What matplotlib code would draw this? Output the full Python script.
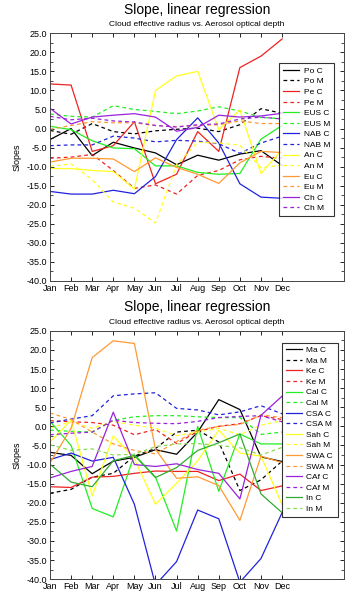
import matplotlib
matplotlib.use("Agg")
import matplotlib.pyplot as plt
from matplotlib.ticker import MultipleLocator, FormatStrFormatter

plt.rcParams['font.family'] = ['Liberation Sans', 'DejaVu Sans']

months = ['Jan', 'Feb', 'Mar', 'Apr', 'May', 'Jun', 'Jul', 'Aug', 'Sep', 'Oct', 'Nov', 'Dec']
x = list(range(1, 13))

# top panel
po_c = [-2.9, 0.0, -7.1, -3.6, -5.1, -6.4, -9.5, -7.0, -8.3, -6.7, -5.8, -9.7]
po_m = [-0.5, -1.5, 1.3, -0.8, -1.4, -0.6, -0.2, 0.1, -0.8, 1.0, 5.2, 4.0]
pe_c = [11.7, 11.4, -6.0, -4.5, 1.8, -14.5, -12.0, -0.8, -6.0, 16.0, 19.0, 23.5]
pe_m = [-7.8, -7.5, -6.8, -11.0, -15.7, -14.8, -17.2, -12.3, -11.0, -8.2, -7.3, -7.8]
eus_c = [0.6, -0.3, -3.2, -5.1, -5.3, -9.8, -9.8, -11.5, -12.0, -11.8, -2.8, 0.8]
eus_m = [3.8, 3.2, 3.0, 6.0, 5.0, 4.5, 3.9, 4.6, 5.7, 4.6, 2.9, 2.6]
nab_c = [-16.5, -17.2, -17.2, -16.2, -17.1, -12.6, -2.9, 2.8, -3.8, -14.5, -18.0, -18.3]
nab_m = [-4.5, -4.3, -4.3, -2.0, -2.5, -3.5, -3.1, -3.3, -4.0, -6.5, -3.8, -2.0]
an_c = [-10.5, -10.5, -11.0, -11.3, -15.9, 10.0, 13.8, 15.0, -0.3, 4.9, -11.8, -5.5]
an_m = [-9.9, -9.3, -13.4, -19.3, -20.9, -24.8, -9.5, -3.6, -3.8, -4.4, -10.3, -9.6]
eu_c = [-8.8, -7.8, -7.8, -8.0, -11.3, -7.7, -10.2, -12.0, -14.4, -9.0, -6.0, -6.3]
eu_m = [-0.2, 0.8, 1.8, 1.5, 1.5, 0.8, 0.5, 0.8, 1.0, 2.0, 1.3, 1.3]
ch_c = [5.3, 1.2, 3.0, 3.5, 3.9, 3.0, -0.7, 0.3, 3.5, 3.0, 3.3, 4.0]
ch_m = [3.2, 2.3, 2.7, 2.0, 1.7, 0.8, 0.4, 1.0, 1.2, 2.5, 3.0, 2.5]

# bottom panel
ma_c = [-6.8, -7.6, -12.4, -9.1, -8.1, -6.1, -7.3, -1.5, 7.0, 4.4, -8.0, -9.2]
ma_m = [-17.5, -16.5, -13.3, -12.3, -7.8, -5.8, -1.5, -1.0, -4.1, -16.8, -14.0, -9.1]
ke_c = [-15.8, -16.0, -13.3, -13.1, -12.3, -11.7, -11.8, -11.8, -14.2, -12.5, -16.8, -15.6]
ke_m = [1.5, 1.2, 1.0, 0.3, -2.2, -0.8, -4.5, -1.3, 0.0, 0.7, 2.8, 1.8]
cal_c = [1.3, -5.0, -21.5, -23.7, -7.4, -13.3, -27.4, 0.0, -17.0, -2.0, -4.6, -4.6]
cal_m = [-1.0, -1.3, -1.5, 1.6, 2.5, 2.8, 2.8, 2.5, 2.3, 2.3, -2.1, -1.5]
csa_c = [-8.7, -7.0, -9.1, -8.1, -20.4, -41.5, -35.4, -21.9, -24.2, -40.8, -34.6, -22.6]
csa_m = [0.9, 1.9, 2.8, 8.0, 8.5, 8.8, 4.7, 4.3, 3.0, 3.8, 5.4, 3.3]
sah_c = [-4.1, 1.6, -18.2, -2.5, -8.5, -20.4, -14.9, -9.0, -1.0, -7.0, -7.8, -20.5]
sah_m = [-0.5, 1.3, -0.5, 1.3, 0.3, -0.5, -2.4, -1.5, -0.5, -2.2, 0.3, 1.5]
swa_c = [-9.6, -0.5, 18.0, 22.4, 21.7, -6.0, -13.6, -13.2, -15.5, -24.6, -7.8, -9.5]
swa_m = [3.5, 1.8, -1.5, -4.6, -6.3, -7.2, -4.0, -1.0, 0.0, 0.5, 3.0, 2.3]
caf_c = [-13.5, -11.8, -10.5, 3.7, -10.0, -10.5, -9.8, -11.3, -12.3, -19.0, 2.9, 7.9]
caf_m = [-2.2, -1.8, -1.5, 1.6, 1.0, 0.8, 0.7, 1.3, 2.3, 2.6, 2.8, 1.2]
in_c = [-9.9, -14.6, -15.8, -9.0, -7.6, -13.4, -10.8, -6.3, -4.3, -2.0, -17.7, -22.6]
in_m = [-4.8, -6.3, -5.9, -7.5, -7.3, -5.3, -4.6, -4.5, -5.0, -5.6, -7.5, -5.5]

black = '#000000'
red = '#ee2222'
green = '#22ee22'
blue = '#2222dd'
yellow = '#ffff22'
orange = '#ff9933'
purple = '#9922dd'
dgreen = '#33aa33'
lgreen = '#88dd55'

dash = (0, (3, 2.5))

top_series = [
    ('Po C', po_c, black, '-'), ('Po M', po_m, black, dash),
    ('Pe C', pe_c, red, '-'), ('Pe M', pe_m, red, dash),
    ('EUS C', eus_c, green, '-'), ('EUS M', eus_m, green, dash),
    ('NAB C', nab_c, blue, '-'), ('NAB M', nab_m, blue, dash),
    ('An C', an_c, yellow, '-'), ('An M', an_m, yellow, dash),
    ('Eu C', eu_c, orange, '-'), ('Eu M', eu_m, orange, dash),
    ('Ch C', ch_c, purple, '-'), ('Ch M', ch_m, purple, dash),
]
bottom_series = [
    ('Ma C', ma_c, black, '-'), ('Ma M', ma_m, black, dash),
    ('Ke C', ke_c, red, '-'), ('Ke M', ke_m, red, dash),
    ('Cal C', cal_c, green, '-'), ('Cal M', cal_m, green, dash),
    ('CSA C', csa_c, blue, '-'), ('CSA M', csa_m, blue, dash),
    ('Sah C', sah_c, yellow, '-'), ('Sah M', sah_m, yellow, dash),
    ('SWA C', swa_c, orange, '-'), ('SWA M', swa_m, orange, dash),
    ('CAf C', caf_c, purple, '-'), ('CAf M', caf_m, purple, dash),
    ('In C', in_c, dgreen, '-'), ('In M', in_m, lgreen, dash),
]

fig = plt.figure(figsize=(3.52, 5.94), dpi=100)
ax1 = fig.add_axes([0.142, 0.527, 0.835, 0.417])
ax2 = fig.add_axes([0.142, 0.025, 0.835, 0.418])


def draw(ax, series, legend_anchor):
    for name, vals, col, ls in series:
        ax.plot(x, vals, color=col, linestyle=ls, linewidth=0.9, label=name)
    ax.set_xlim(1, 14.93)
    ax.set_ylim(-40, 25)
    ax.set_xticks(x)
    ax.set_xticklabels(months)
    ax.yaxis.set_major_locator(MultipleLocator(5))
    ax.yaxis.set_minor_locator(MultipleLocator(2.5))
    ax.yaxis.set_major_formatter(FormatStrFormatter('%.1f'))
    ax.tick_params(direction='in', labelsize=6.5, length=3, width=0.6,
                   top=True, right=True, pad=2)
    ax.tick_params(which='minor', direction='in', length=2, width=0.5, right=True)
    ax.set_ylabel('Slopes', fontsize=6.5, labelpad=4)
    for sp in ax.spines.values():
        sp.set_linewidth(0.7)
        sp.set_color('#444444')
    ax.text(0.5, 1.095, 'Slope, linear regression', transform=ax.transAxes,
            ha='center', va='center', fontsize=10)
    ax.text(0.5, 1.035, 'Cloud effective radius vs. Aerosol optical depth',
            transform=ax.transAxes, ha='center', va='center', fontsize=6)
    leg = ax.legend(loc='upper right', bbox_to_anchor=legend_anchor, fontsize=6,
                    frameon=True, fancybox=False, handlelength=2.0,
                    labelspacing=0.33, borderpad=0.45, handletextpad=0.5,
                    borderaxespad=0)
    leg.get_frame().set_edgecolor('black')
    leg.get_frame().set_linewidth(0.8)


draw(ax1, top_series, (0.966, 0.879))
draw(ax2, bottom_series, (0.979, 0.953))

fig.savefig('out.png', dpi=100)
